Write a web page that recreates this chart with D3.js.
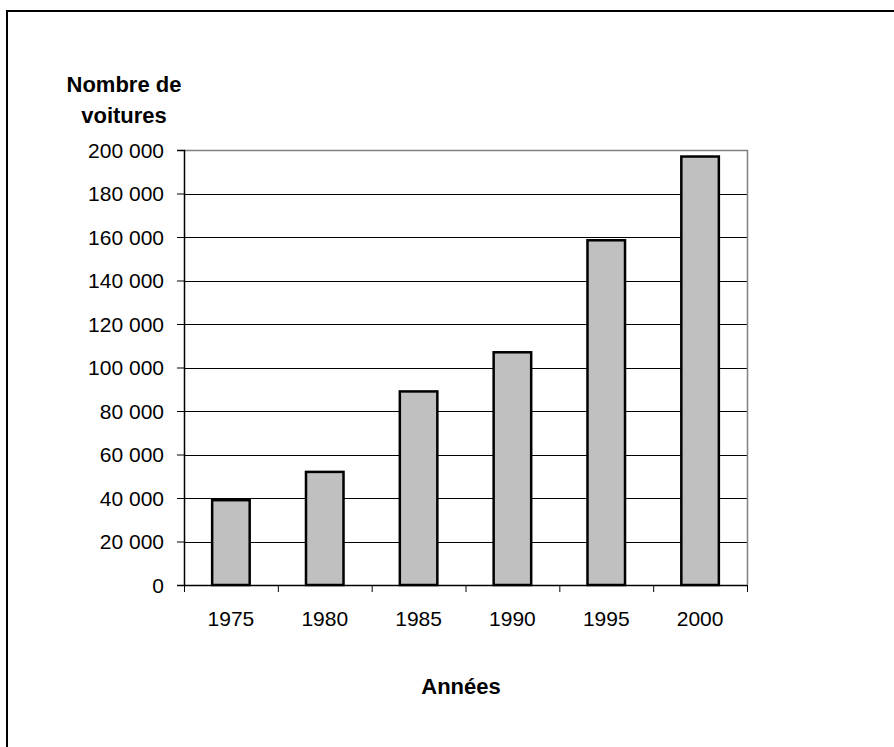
<!DOCTYPE html>
<html>
<head>
<meta charset="utf-8">
<script src="https://cdn.jsdelivr.net/npm/d3@7/dist/d3.min.js"></script>
<style>
  html, body { margin: 0; padding: 0; background: #fff; }
  svg { display: block; }
  text { font-family: "Liberation Sans", Arial, sans-serif; fill: #000; }
</style>
</head>
<body>
<svg id="chart" width="894" height="747"></svg>
<script>
// Nombre de voitures par année
const years = ["1975", "1980", "1985", "1990", "1995", "2000"];
const cars = [39000, 52000, 89000, 107000, 158500, 197000];
const yTicks = [0, 20000, 40000, 60000, 80000, 100000, 120000, 140000, 160000, 180000, 200000];

const svg = d3.select("#chart");
const W = 894, H = 747;
const plot = { left: 184, right: 747, top: 150, bottom: 585 };

// outer frame
svg.append("rect")
  .attr("x", 7).attr("y", 11)
  .attr("width", W + 10).attr("height", H + 10)
  .attr("fill", "none").attr("stroke", "#000").attr("stroke-width", 2);

const x = d3.scaleBand().domain(years).range([plot.left, plot.right]).paddingInner(0).paddingOuter(0);
const y = d3.scaleLinear().domain([0, 200000]).range([plot.bottom, plot.top]);

const fmt = v => d3.format(",")(v).replace(/,/g, " ");

// gridlines
svg.append("g").selectAll("line")
  .data(yTicks.filter(v => v > 0 && v < 200000))
  .join("line")
  .attr("x1", plot.left).attr("x2", plot.right)
  .attr("y1", d => Math.round(y(d)) + 0.5).attr("y2", d => Math.round(y(d)) + 0.5)
  .attr("stroke", "#000").attr("stroke-width", 1);

// plot frame (top and right)
svg.append("path")
  .attr("d", `M${plot.left},${plot.top + 0.5}H${plot.right + 0.5}V${plot.bottom}`)
  .attr("fill", "none").attr("stroke", "#808080").attr("stroke-width", 1.5);

// bars
svg.append("g").selectAll("rect")
  .data(years.map((yr, i) => ({ yr, v: cars[i] })))
  .join("rect")
  .attr("x", d => x(d.yr) + x.bandwidth() * 0.3)
  .attr("width", x.bandwidth() * 0.4)
  .attr("y", d => y(d.v))
  .attr("height", d => y(0) - y(d.v))
  .attr("fill", "#c0c0c0").attr("stroke", "#000").attr("stroke-width", 2.5);

// y axis
const yAxis = d3.axisLeft(y).tickValues(yTicks).tickSize(7).tickPadding(0).tickFormat(() => "");
const gy = svg.append("g").attr("transform", `translate(${plot.left},0)`).call(yAxis);
gy.select(".domain").attr("stroke", "#000").attr("stroke-width", 1.5);
gy.selectAll(".tick line").attr("stroke", "#000");

svg.append("g").selectAll("text")
  .data(yTicks)
  .join("text")
  .attr("x", 164).attr("y", d => y(d) + 7.5)
  .attr("text-anchor", "end")
  .attr("font-size", 21)
  .text(d => fmt(d));

// x axis
const xEdges = d3.scaleLinear().domain([0, years.length]).range([plot.left, plot.right]);
const xAxis = d3.axisBottom(xEdges).tickValues(d3.range(0, years.length + 1)).tickSize(7).tickFormat(() => "");
const gx = svg.append("g").attr("transform", `translate(0,${plot.bottom})`).call(xAxis);
gx.select(".domain").attr("stroke", "#000").attr("stroke-width", 1.5).attr("d", `M${plot.left},0.5H${plot.right}`);
gx.selectAll(".tick line").attr("stroke", "#000");

svg.append("g").selectAll("text")
  .data(years)
  .join("text")
  .attr("x", d => x(d) + x.bandwidth() / 2).attr("y", 626)
  .attr("text-anchor", "middle")
  .attr("font-size", 21)
  .text(d => d);

// axis titles
const title = svg.append("g").attr("font-size", 22).attr("font-weight", "bold").attr("text-anchor", "middle");
title.append("text").attr("x", 124).attr("y", 92).text("Nombre de");
title.append("text").attr("x", 124).attr("y", 123).text("voitures");
title.append("text").attr("x", 461).attr("y", 694).text("Années");
</script>
</body>
</html>
